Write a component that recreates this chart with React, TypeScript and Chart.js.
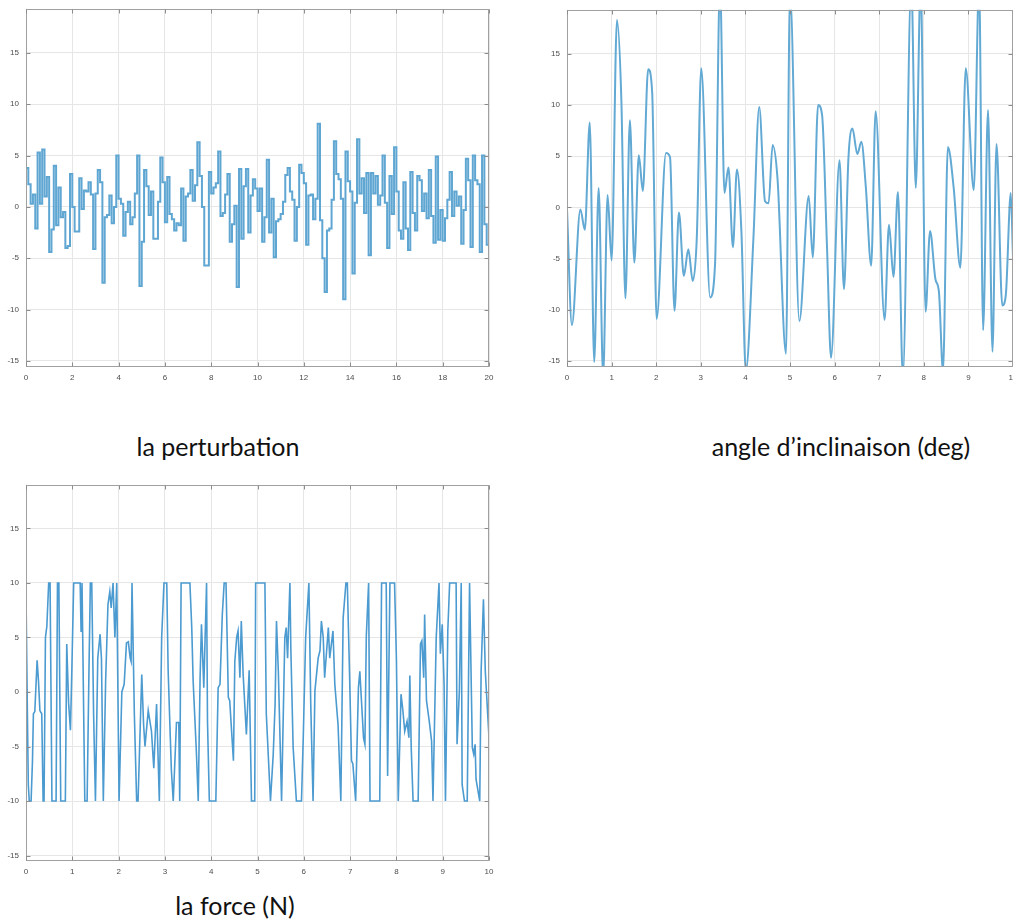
import React, { useEffect, useRef } from "react";
import { Chart, registerables } from "chart.js";

Chart.register(...registerables);

// ---------- data ----------
const perturbationStep = 0.1;
const perturbationValues = [
  3.8, 2.2, 0.3, 1.2, -2.1, 5.3, 0.3, 5.6, 1.0, 2.9,
  -4.4, -2.2, 4.0, -1.8, 1.9, -1.0, -0.5, -4.0, -3.8, 3.2,
  0.0, -2.4, -2.4, 2.8, -0.2, 1.6, 1.5, 2.4, 1.2, -4.1,
  1.3, 3.6, 2.4, -7.4, -1.0, -0.8, 1.1, -1.6, 0.0, 5.0,
  0.8, 0.3, -2.8, -0.5, 0.5, -1.7, -1.0, 1.3, 5.0, -7.7,
  -3.4, 3.6, 2.0, -0.8, 1.5, -3.1, -3.1, 0.5, 4.8, 2.4,
  -1.5, 2.9, -0.7, -1.2, -2.3, -1.6, -1.8, 1.8, -3.3, 1.0,
  1.3, 3.6, 0.6, 2.1, 6.3, 3.0, 0.0, -5.7, -5.7, 3.4,
  1.3, 1.9, 2.3, 5.4, -0.9, -0.6, 1.2, 3.2, -3.4, -1.7,
  0.1, -7.8, 3.7, -3.1, 2.0, 3.7, -2.5, 1.1, 2.7, 1.8,
  -0.4, 1.8, -3.4, -1.0, 4.6, -2.5, 0.8, -4.9, -1.4, -1.2,
  -0.7, 0.5, 3.1, 3.8, 1.5, 0.7, -3.3, 0.0, 4.1, 3.3,
  2.3, -3.7, 1.1, 1.2, -1.2, 0.8, 8.1, -1.3, -5.0, -8.3,
  -2.3, -2.1, 0.7, 6.4, 3.2, 2.7, 0.8, -9.0, 5.4, 2.5,
  1.5, -6.5, 0.4, 6.6, 1.3, 2.8, -0.6, 3.3, -4.7, 3.3,
  1.3, 3.0, 0.2, 1.1, 5.0, 0.4, -4.0, 3.0, -0.7, 5.8,
  1.5, -2.3, -3.1, 2.4, -2.1, -4.2, 3.4, -0.6, -2.3, 3.0,
  2.6, -0.4, 1.3, -1.1, 3.6, -0.9, -3.5, 4.9, -3.2, -0.3,
  -3.3, -1.1, 0.7, 3.4, -0.9, 1.5, 0.1, 1.0, -3.6, -0.3,
  4.7, 2.6, -3.9, 5.0, 2.6, 2.2, -4.4, 5.0, -1.7, -3.7,
];

const angleTimes = [
  0, 0.11, 0.3, 0.4, 0.51, 0.61, 0.71, 0.81, 0.91, 1.0,
  1.12, 1.22, 1.31, 1.41, 1.51, 1.61, 1.7, 1.82, 1.91, 2.01,
  2.22, 2.31, 2.41, 2.51, 2.62, 2.72, 2.82, 2.91, 3.01, 3.21,
  3.32, 3.43, 3.53, 3.62, 3.72, 3.81, 3.91, 4.01, 4.18, 4.31,
  4.44, 4.52, 4.61, 4.72, 4.91, 5.0, 5.21, 5.42, 5.51, 5.63,
  5.72, 5.83, 5.92, 6.11, 6.21, 6.31, 6.4, 6.51, 6.6, 6.7,
  6.82, 6.92, 7.12, 7.22, 7.32, 7.42, 7.53, 7.72, 7.82, 7.93,
  8.04, 8.14, 8.26, 8.34, 8.43, 8.54, 8.67, 8.82, 8.94, 9.12,
  9.24, 9.33, 9.44, 9.54, 9.63, 9.76, 9.84, 9.95, 10.0,
];
const angleValues = [
  -0.2, -11.5, -0.2, -2.2, 8.3, -15.1, 1.9, -16.5, 1.2, -5.2,
  18.3, 10.3, -8.9, 8.5, -5.4, 5.1, 1.6, 13.5, 11.2, -10.9,
  5.3, 4.9, -10.1, -0.5, -6.7, -4.1, -7.2, -3.0, 13.6, -8.8,
  -5.5, 22, 1.4, 3.9, -3.9, 3.7, -2.3, -16, -3, 9.8,
  0.6, 0.4, 6.1, 2.8, -14.3, 21, -11.1, 1.1, -4.9, 10.0,
  9.0, -3.9, -14.7, 4.6, -8.0, 4.8, 7.7, 5.2, 6.4, 2.0,
  -5.7, 9.4, -11.0, -1.7, -6.8, 1.5, -16.5, 22, 1.9, 22,
  -10.2, -2.3, -7.0, -8.3, -16, 5.9, 1.9, -5.9, 13.6, 1.7,
  22, -12.0, 9.5, -14.1, 6.2, -9.6, -8.5, 1.4, -4.9,
];

const forceTimes = [
  0.0, 0.03, 0.05, 0.07, 0.11, 0.14, 0.16, 0.19, 0.22, 0.24,
  0.27, 0.3, 0.34, 0.37, 0.39, 0.42, 0.45, 0.49, 0.52, 0.56,
  0.65, 0.68, 0.71, 0.75, 0.85, 0.88, 0.92, 0.96, 0.99, 1.03,
  1.17, 1.19, 1.21, 1.23, 1.27, 1.32, 1.36, 1.39, 1.42, 1.46,
  1.5, 1.55, 1.6, 1.63, 1.67, 1.72, 1.77, 1.81, 1.84, 1.88,
  1.92, 1.96, 2.01, 2.07, 2.12, 2.17, 2.21, 2.25, 2.27, 2.29,
  2.34, 2.39, 2.42, 2.5, 2.54, 2.57, 2.64, 2.71, 2.76, 2.82,
  2.88, 2.93, 2.98, 3.04, 3.07, 3.11, 3.14, 3.18, 3.25, 3.3,
  3.32, 3.35, 3.54, 3.58, 3.61, 3.68, 3.72, 3.76, 3.79, 3.84,
  3.9, 3.92, 3.96, 4.1, 4.15, 4.19, 4.24, 4.28, 4.32, 4.37,
  4.4, 4.48, 4.51, 4.55, 4.58, 4.62, 4.65, 4.69, 4.76, 4.82,
  4.87, 4.94, 4.96, 5.16, 5.19, 5.28, 5.34, 5.38, 5.41, 5.45,
  5.52, 5.59, 5.62, 5.65, 5.7, 5.72, 5.77, 5.84, 5.95, 5.99,
  6.04, 6.11, 6.15, 6.2, 6.24, 6.31, 6.35, 6.38, 6.42, 6.45,
  6.53, 6.56, 6.63, 6.67, 6.74, 6.8, 6.85, 6.91, 6.94, 6.99,
  7.03, 7.06, 7.12, 7.18, 7.21, 7.29, 7.32, 7.35, 7.4, 7.43,
  7.64, 7.68, 7.78, 7.81, 7.86, 7.96, 8.0, 8.04, 8.1, 8.14,
  8.18, 8.23, 8.27, 8.29, 8.32, 8.36, 8.47, 8.52, 8.55, 8.59,
  8.61, 8.65, 8.71, 8.76, 8.79, 8.86, 8.92, 8.95, 8.99, 9.03,
  9.06, 9.11, 9.15, 9.29, 9.31, 9.36, 9.4, 9.42, 9.47, 9.53,
  9.58, 9.64, 9.67, 9.7, 9.72, 9.8, 9.83, 9.88, 9.92, 10.0,
];
const forceValues = [
  9, -2, -8.5, -10, -10, -6.3, -2, -1.8, 1, 2.9,
  1, -1.7, -2.0, -10, -10, 5, 6, 10, 10, -10,
  -10, 10, 10, -10, -10, 4.4, -1, -3.5, 2, 10,
  10, 5.5, 10, 10, -10, -10, 2, 10, 10, -2,
  -10, 3.1, 5.3, 3, -10, 1, 8, 9.2, 7.7, 10,
  5, 10, -10, 0, 0.7, 4.5, 4.6, 3.1, 2.8, 10,
  -2, -10, -10, 1.6, -3, -5, -1.7, -3.6, -7, -1.1,
  -10, 5, 10, 10, 2, -3.3, -7.2, -10, -2.8, -2.8,
  -10, 10, 10, 5.9, 1, -5.5, -10, 1.3, 6.2, 0.4,
  10, -2.7, -10, -10, 0.4, 0.7, 7.1, 10, 10, -0.5,
  -0.8, -6.3, 2.8, 5, 5.6, 1.3, 6.5, 1.6, -3.9, 2,
  -10, -10, 10, 10, -2, -10, -5.7, -1.1, 6.5, 1.9,
  -10, 5, 5.9, 3.1, 10, 4, -5.1, -10, -10, -3.9,
  5, 10, -1.1, -10, 0.1, 3.1, 3.8, 6.5, 5, 1.3,
  5.9, 3.1, 5.6, 0.7, -3, -10, 6.8, 10, 10, 1.3,
  -6.3, -6.6, -10, 0.4, 1.9, -4.2, -4.8, 5.1, 10, -10,
  -10, 10, 10, -7.7, 10, 10, 3.1, -10, -0.2, -1.7,
  -3.6, -2.7, -4.2, 1.5, -5.1, -10, -10, 4.4, 4.7, 1.3,
  7.1, -0.8, -2.7, -4.5, -10, 5, 10, 3.5, 6.2, 0.7,
  -10, 5.6, 10, 10, -4.8, 0.1, 10, -8.5, -10, -10,
  10, -5.1, -5.7, -4.8, -8, -10, 1.9, 8.5, 1.9, -4.2,
];

const xTicks20 = [0, 2, 4, 6, 8, 10, 12, 14, 16, 18, 20];
const xTicks10 = [0, 1, 2, 3, 4, 5, 6, 7, 8, 9, 10];
const yTicks = [-15, -10, -5, 0, 5, 10, 15];

const titlePerturbation = "la perturbation";
const titleAngle = "angle d’inclinaison (deg)";
const titleForce = "la force (N)";

// ---------- drawing helpers ----------
const PAD_LEFT = 30;
const PAD_TOP = 10;
const PAD_RIGHT = 20;
const PAD_BOTTOM = 25;

const boxPlugin = {
  id: "matlabBox",
  afterDraw(chart: any) {
    const { ctx, chartArea: a, scales } = chart;
    ctx.save();
    ctx.strokeStyle = "#a0a0a0";
    ctx.lineWidth = 1;
    const l = Math.round(a.left) + 0.5;
    const t = Math.round(a.top) + 0.5;
    const r = Math.round(a.right) - 0.5;
    const b = Math.round(a.bottom) - 0.5;
    ctx.strokeRect(l, t, r - l, b - t);
    ctx.strokeStyle = "#8c8c8c";
    ctx.beginPath();
    for (const tk of scales.x.ticks) {
      const px = Math.round(scales.x.getPixelForValue(tk.value)) + 0.5;
      ctx.moveTo(px, b);
      ctx.lineTo(px, b - 4);
      ctx.moveTo(px, t);
      ctx.lineTo(px, t + 4);
    }
    for (const tk of scales.y.ticks) {
      const py = Math.round(scales.y.getPixelForValue(tk.value)) + 0.5;
      ctx.moveTo(l, py);
      ctx.lineTo(l + 4, py);
      ctx.moveTo(r, py);
      ctx.lineTo(r - 4, py);
    }
    ctx.stroke();
    ctx.restore();
  },
};

type PanelProps = {
  left: number;
  top: number;
  width: number;
  height: number;
  xMin: number;
  xMax: number;
  yMin: number;
  yMax: number;
  xTicks: number[];
  points: { x: number; y: number }[];
  stepped?: boolean;
  smooth?: boolean;
  color: string;
  lineWidth: number;
};

function Panel(props: PanelProps) {
  const ref = useRef<HTMLCanvasElement | null>(null);
  const cw = props.width + PAD_LEFT + PAD_RIGHT;
  const ch = props.height + PAD_TOP + PAD_BOTTOM;

  useEffect(() => {
    if (!ref.current) return;
    const tickFont = { family: "Liberation Sans, Arial, sans-serif", size: 8 };
    const chart = new Chart(ref.current, {
      type: "line",
      data: {
        datasets: [
          {
            data: props.points,
            borderColor: props.color,
            borderWidth: props.lineWidth,
            pointRadius: 0,
            fill: false,
            stepped: props.stepped ? "before" : false,
            cubicInterpolationMode: props.smooth ? "monotone" : "default",
            tension: 0,
          } as any,
        ],
      },
      options: {
        responsive: false,
        maintainAspectRatio: false,
        animation: false,
        devicePixelRatio: 1,
        layout: { padding: { top: PAD_TOP, right: PAD_RIGHT, left: 0, bottom: 0 } },
        plugins: { legend: { display: false }, tooltip: { enabled: false } },
        events: [],
        scales: {
          x: {
            type: "linear",
            min: props.xMin,
            max: props.xMax,
            afterFit: (s: any) => {
              s.height = PAD_BOTTOM;
            },
            afterBuildTicks: (s: any) => {
              s.ticks = props.xTicks.map((v) => ({ value: v }));
            },
            ticks: {
              font: tickFont,
              color: "#4d4d4d",
              padding: 6,
              maxRotation: 0,
              autoSkip: false,
              callback: (v: any) => String(v),
            },
            grid: { color: "#e6e6e6", drawTicks: false },
            border: { display: false },
          },
          y: {
            type: "linear",
            min: props.yMin,
            max: props.yMax,
            afterFit: (s: any) => {
              s.width = PAD_LEFT;
            },
            afterBuildTicks: (s: any) => {
              s.ticks = yTicks.map((v) => ({ value: v }));
            },
            ticks: {
              font: tickFont,
              color: "#4d4d4d",
              padding: 7,
              autoSkip: false,
              callback: (v: any) => String(v),
            },
            grid: { color: "#e6e6e6", drawTicks: false },
            border: { display: false },
          },
        },
      } as any,
      plugins: [boxPlugin],
    });
    return () => chart.destroy();
  }, []);

  return (
    <canvas
      ref={ref}
      width={cw}
      height={ch}
      style={{
        position: "absolute",
        left: props.left - PAD_LEFT,
        top: props.top - PAD_TOP,
        width: cw,
        height: ch,
      }}
    />
  );
}

const titleStyle = (cx: number, top: number): React.CSSProperties => ({
  position: "absolute",
  left: cx - 200,
  width: 400,
  top,
  textAlign: "center",
  fontFamily: "Lato, 'Open Sans', sans-serif",
  fontSize: 25,
  lineHeight: "28px",
  color: "#111",
  whiteSpace: "nowrap",
});

export default function App() {
  const perturbationPoints = perturbationValues.map((v, i) => ({
    x: i * perturbationStep,
    y: v,
  }));
  perturbationPoints.push({
    x: perturbationValues.length * perturbationStep,
    y: perturbationValues[perturbationValues.length - 1],
  });
  const anglePoints = angleTimes.map((t, i) => ({ x: t, y: angleValues[i] }));
  const forcePoints = forceTimes.map((t, i) => ({ x: t, y: forceValues[i] }));

  return (
    <div
      style={{
        position: "fixed",
        left: 0,
        top: 0,
        width: 1013,
        height: 920,
        overflow: "hidden",
        background: "#fff",
      }}
    >
      <Panel
        left={26}
        top={7}
        width={463}
        height={360}
        xMin={0}
        xMax={20}
        yMin={-15.6}
        yMax={19.3}
        xTicks={xTicks20}
        points={perturbationPoints}
        stepped
        color="#5fa6d2"
        lineWidth={2}
      />
      <Panel
        left={567}
        top={8}
        width={446}
        height={359}
        xMin={0}
        xMax={10}
        yMin={-15.6}
        yMax={19.3}
        xTicks={xTicks10}
        points={anglePoints}
        smooth
        color="#62a9d4"
        lineWidth={2}
      />
      <Panel
        left={26}
        top={483}
        width={463}
        height={378}
        xMin={0}
        xMax={10}
        yMin={-15.5}
        yMax={19.0}
        xTicks={xTicks10}
        points={forcePoints}
        color="#4b9ad0"
        lineWidth={1.6}
      />
      <div style={titleStyle(218, 432)}>{titlePerturbation}</div>
      <div style={titleStyle(841, 432)}>{titleAngle}</div>
      <div style={titleStyle(235, 891)}>{titleForce}</div>
    </div>
  );
}
